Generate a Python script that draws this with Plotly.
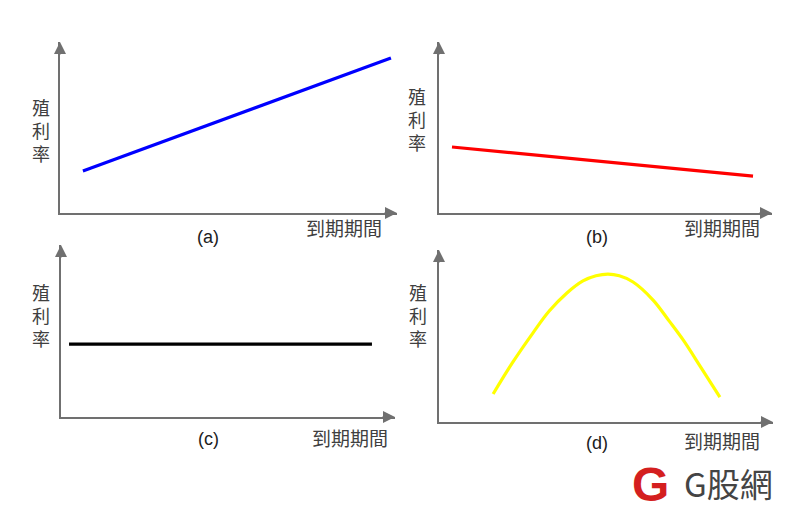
import plotly.graph_objects as go

W, H = 799, 524

# ---- data (conceptual yield curves; 0-100 scale) ----
mat_a = [6.8, 98.2]
yld_a = [24.6, 90.6]

mat_b = [3.9, 94.3]
yld_b = [38.6, 21.6]

mat_c = [2.4, 93.1]
yld_c = [42.4, 42.4]

mat_d = [16.2, 22.0, 28.1, 33.0, 38.3, 43.1, 47.0, 50.6, 54.0, 58.1, 64.1, 69.0, 73.1, 78.5, 84.1]
yld_d = [16.3, 34.5, 51.7, 64.5, 75.0, 82.0, 85.0, 86.0, 85.0, 81.4, 70.9, 58.5, 47.7, 31.5, 14.5]

panel_labels = ["(a)", "(b)", "(c)", "(d)"]
y_title = "殖利率"
x_title = "到期期間"
colors = ["#0000ff", "#ff0000", "#000000", "#ffff00"]
brand = "G股網"

def px(x):
    return x / W

def py(y):
    return 1 - y / H

# panel pixel boxes: (left, right, top, bottom)
boxes = [(60, 397, 42, 213), (439, 772, 42, 213), (61, 395, 245, 417), (439, 773, 250, 422)]

fig = go.Figure()
series = [(mat_a, yld_a), (mat_b, yld_b), (mat_c, yld_c), (mat_d, yld_d)]
AX = "#707070"
CJK = "Noto Sans CJK TC"
for i, ((xs, ys), col) in enumerate(zip(series, colors)):
    n = "" if i == 0 else str(i + 1)
    fig.add_trace(go.Scatter(x=xs, y=ys, mode="lines", xaxis="x" + n, yaxis="y" + n,
                             line=dict(color=col, width=3.2, shape="spline" if i == 3 else "linear"),
                             showlegend=False, hoverinfo="skip"))
    l, r, t, b = boxes[i]
    common = dict(showgrid=False, zeroline=False, showticklabels=False, ticks="",
                  showline=True, linecolor=AX, linewidth=1.5, range=[0, 100], fixedrange=True)
    fig.update_layout(**{
        "xaxis" + n: dict(domain=[px(l), px(r)], anchor="y" + n, **common),
        "yaxis" + n: dict(domain=[py(b), py(t)], anchor="x" + n, **common),
    })
    xr, yr = "x" + n + " domain", "y" + n + " domain"
    fig.add_annotation(xref=xr, yref=yr, x=1, y=0, ax=-14, ay=0, text="", showarrow=True,
                       arrowhead=2, arrowsize=1.6, arrowwidth=1.5, arrowcolor=AX)
    fig.add_annotation(xref=xr, yref=yr, x=0, y=1, ax=0, ay=14, text="", showarrow=True,
                       arrowhead=2, arrowsize=1.6, arrowwidth=1.5, arrowcolor=AX)

# text labels
ylab_pos = [(41, 107), (417, 96), (41, 292), (418, 292)]
xlab_pos = [(344, 228), (722, 228), (350, 437), (722, 440)]
plab_pos = [(208, 237), (597, 237), (208, 439), (597, 443)]

def label(x, y, text, size, color, family):
    fig.add_annotation(xref="paper", yref="paper", x=px(x), y=py(y), text=text,
                       showarrow=False, xanchor="center", yanchor="middle",
                       font=dict(family=family, size=size, color=color))

for i in range(4):
    for k, ch in enumerate(y_title):
        label(ylab_pos[i][0], ylab_pos[i][1] + 23 * k, ch, 18, "#404040", CJK)
    label(*xlab_pos[i], x_title, 19, "#404040", CJK)
    label(*plab_pos[i], panel_labels[i], 18, "#202020", "Liberation Sans, Arial")

# logo
label(650, 484, "<b>G</b>", 48, "#d41f1f", "Liberation Sans, Arial")
label(728, 483, brand, 33, "#444444", CJK)

fig.update_layout(width=W, height=H, margin=dict(l=0, r=0, t=0, b=0),
                  paper_bgcolor="white", plot_bgcolor="white")
fig.write_html("out.html")
